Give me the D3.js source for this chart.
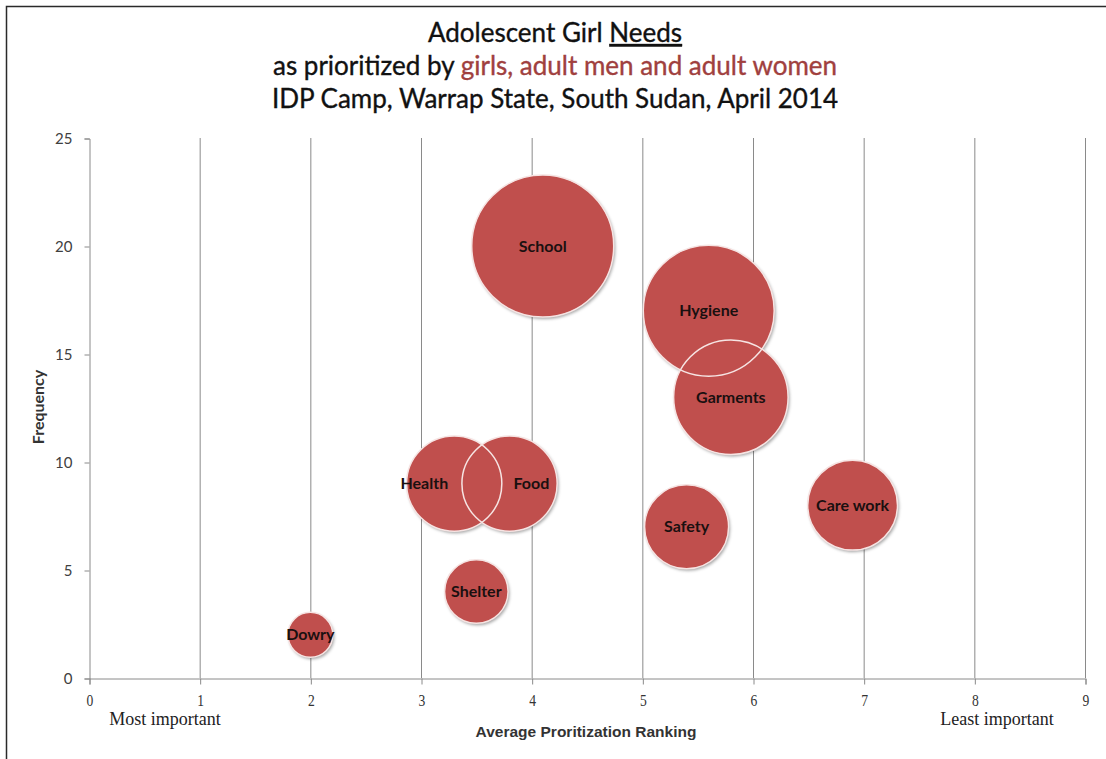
<!DOCTYPE html>
<html>
<head>
<meta charset="utf-8">
<script src="https://cdn.jsdelivr.net/npm/d3@7"></script>
<style>
  html, body { margin: 0; padding: 0; background: #fff; }
  svg { display: block; }
</style>
</head>
<body>
<svg id="chart" width="1106" height="759"></svg>
<script>
// ---- data ----
const needs      = ["School", "Hygiene", "Garments", "Health", "Food", "Shelter", "Dowry", "Safety", "Care work"];
const ranking    = [4.1, 5.6, 5.8, 3.3, 3.8, 3.5, 2.0, 5.4, 6.9];
const frequency  = [20, 17, 13, 9, 9, 4, 2, 7, 8];
const bubbleSize = [20, 17, 13, 9, 9, 4, 2, 7, 8];
const labelAlign = ["middle", "middle", "middle", "end", "start", "middle", "middle", "middle", "middle"];
const xTicks = [0, 1, 2, 3, 4, 5, 6, 7, 8, 9];
const yTicks = [0, 5, 10, 15, 20, 25];
const titleLine1 = ["Adolescent Girl ", "Needs"];
const titleLine2 = ["as prioritized by ", "girls, adult men and adult women"];
const titleLine3 = "IDP Camp, Warrap State, South Sudan, April 2014";
const xAxisTitle = "Average Proritization Ranking";
const yAxisTitle = "Frequency";
const xEndNotes  = ["Most important", "Least important"];

// ---- layout ----
const svg = d3.select("#chart");
const plot = { left: 89, right: 1085, top: 138, bottom: 678 };

const x = d3.scaleLinear().domain([0, 9]).range([plot.left, plot.right]);
const y = d3.scaleLinear().domain([0, 25]).range([plot.bottom, plot.top]);
const r = d3.scaleSqrt().domain([0, 20]).range([0, 71]);

// frame
svg.append("path")
  .attr("d", `M6.5,759 L6.5,6.5 L1106,6.5`)
  .attr("fill", "none").attr("stroke", "#2a2a2a").attr("stroke-width", 1.5);

const defs = svg.append("defs");
const f = defs.append("filter").attr("id", "shadow").attr("x", "-20%").attr("y", "-20%").attr("width", "150%").attr("height", "150%");
f.append("feDropShadow").attr("dx", 1.5).attr("dy", 2).attr("stdDeviation", 1.6)
  .attr("flood-color", "#000").attr("flood-opacity", 0.35);

// vertical gridlines
svg.append("g").selectAll("line")
  .data(xTicks.filter(d => d > 0))
  .join("line")
  .attr("x1", d => x(d) + 0.5).attr("x2", d => x(d) + 0.5)
  .attr("y1", plot.top).attr("y2", plot.bottom)
  .attr("stroke", "#8a8a8a").attr("stroke-width", 1);

// axes
const xAxis = d3.axisBottom(x).tickValues(xTicks).tickSize(6).tickPadding(9).tickFormat(d3.format("d"));
const gx = svg.append("g").attr("transform", `translate(0.5,${plot.bottom + 0.5})`).call(xAxis);
gx.select(".domain").attr("stroke", "#8a8a8a");
gx.selectAll(".tick line").attr("stroke", "#8a8a8a");
gx.selectAll(".tick text")
  .attr("fill", "#333")
  .style("font-family", "'Liberation Serif', serif")
  .style("font-size", "17px")
  .attr("transform", "scale(0.8,1)");

const yAxis = d3.axisLeft(y).tickValues(yTicks).tickSize(5).tickPadding(12);
const gy = svg.append("g").attr("transform", `translate(${plot.left + 0.5},0.5)`).call(yAxis);
gy.select(".domain").attr("stroke", "#8a8a8a");
gy.selectAll(".tick line").attr("stroke", "#8a8a8a");
gy.selectAll(".tick text")
  .attr("fill", "#404040")
  .style("font-family", "Lato, 'Open Sans', sans-serif")
  .style("font-size", "15px");

// bubbles
const data = needs.map((n, i) => ({ name: n, x: ranking[i], y: frequency[i], s: bubbleSize[i], align: labelAlign[i] }));

svg.append("g").attr("filter", "url(#shadow)")
  .selectAll("circle").data(data).join("circle")
  .attr("cx", d => x(d.x)).attr("cy", d => y(d.y)).attr("r", d => r(d.s))
  .attr("fill", "#c0504d");

svg.append("g")
  .selectAll("circle").data(data).join("circle")
  .attr("cx", d => x(d.x)).attr("cy", d => y(d.y)).attr("r", d => r(d.s))
  .attr("fill", "none").attr("stroke", "#f6e4e3").attr("stroke-width", 1.5);

svg.append("g")
  .selectAll("text").data(data).join("text")
  .attr("x", d => x(d.x) + (d.align === "end" ? -6 : d.align === "start" ? 4 : 0))
  .attr("y", d => y(d.y))
  .attr("dy", "0.35em")
  .attr("text-anchor", d => d.align)
  .attr("fill", "#1a1010")
  .style("font-family", "Lato, 'Open Sans', sans-serif")
  .style("font-weight", "bold")
  .style("font-size", "16px")
  .text(d => d.name);

// titles
const tFont = "Lato, 'Open Sans', sans-serif";
function titleText(yPos) {
  return svg.append("text").attr("x", 555).attr("y", yPos).attr("text-anchor", "middle")
    .style("font-family", tFont).style("font-size", "26px")
    .attr("fill", "#111").attr("stroke", "#111").attr("stroke-width", 0.35);
}
const t1 = titleText(42);
t1.append("tspan").text(titleLine1[0]);
t1.append("tspan").style("text-decoration", "underline").text(titleLine1[1]);

const t2 = titleText(75);
t2.append("tspan").text(titleLine2[0]);
t2.append("tspan").attr("fill", "#a0403e").attr("stroke", "#a0403e").text(titleLine2[1]);

titleText(108).text(titleLine3);

// axis titles
svg.append("text").attr("x", 586).attr("y", 737).attr("text-anchor", "middle")
  .style("font-family", "'Liberation Sans Narrow', 'Liberation Sans', sans-serif")
  .style("font-size", "15.5px").style("font-weight", "bold").attr("fill", "#333")
  .text(xAxisTitle);

svg.append("text").attr("transform", `translate(44,407) rotate(-90)`).attr("text-anchor", "middle")
  .style("font-family", tFont).style("font-size", "16px").style("font-weight", "bold").attr("fill", "#333")
  .text(yAxisTitle);

// end notes
svg.append("text").attr("x", 165).attr("y", 725).attr("text-anchor", "middle")
  .style("font-family", "'Liberation Serif', serif").style("font-size", "18px").attr("fill", "#222")
  .text(xEndNotes[0]);
svg.append("text").attr("x", 997).attr("y", 725).attr("text-anchor", "middle")
  .style("font-family", "'Liberation Serif', serif").style("font-size", "18px").attr("fill", "#222")
  .text(xEndNotes[1]);
</script>
</body>
</html>
